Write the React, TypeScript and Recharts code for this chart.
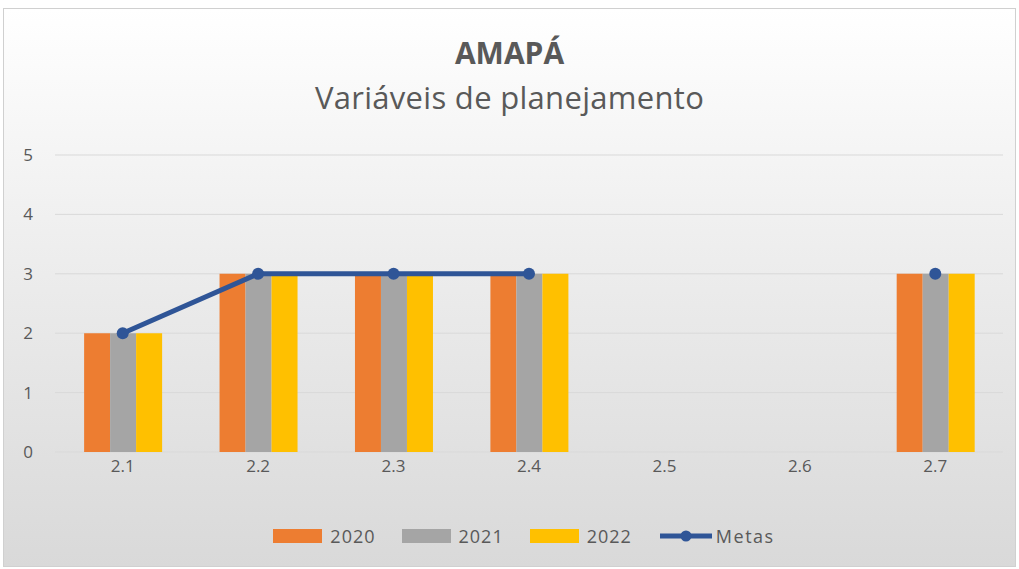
import React from 'react';
import { ComposedChart, Bar, Line, XAxis, YAxis, CartesianGrid } from 'recharts';

const categories = ['2.1', '2.2', '2.3', '2.4', '2.5', '2.6', '2.7'];
const values2020 = [2, 3, 3, 3, null, null, 3];
const values2021 = [2, 3, 3, 3, null, null, 3];
const values2022 = [2, 3, 3, 3, null, null, 3];
const metas = [2, 3, 3, 3, null, null, 3];
const yTicks = [0, 1, 2, 3, 4, 5];

const data = categories.map((c, i) => ({
  cat: c,
  y2020: values2020[i],
  y2021: values2021[i],
  y2022: values2022[i],
  metas: metas[i]
}));

const TEXT = '#595959';
const FONT = '"Open Sans", sans-serif';

const legendItems = [
  { label: '2020', color: '#ED7D31', type: 'rect' },
  { label: '2021', color: '#A5A5A5', type: 'rect' },
  { label: '2022', color: '#FFC000', type: 'rect' },
  { label: 'Metas', color: '#2F5597', type: 'line' }
];

const LegendBox = () => (
  <div
    style={{
      position: 'absolute',
      left: 0,
      top: 524,
      width: 1048,
      display: 'flex',
      justifyContent: 'center',
      alignItems: 'center',
      fontFamily: FONT,
      fontSize: 18,
      color: TEXT
    }}
  >
    {legendItems.map(it => (
      <div key={it.label} style={{ display: 'flex', alignItems: 'center', marginRight: it.type === 'line' ? 0 : 26 }}>
        {it.type === 'rect' ? (
          <div style={{ width: 49, height: 14, background: it.color, marginRight: 8 }} />
        ) : (
          <svg width={56} height={14} style={{ marginRight: 2 }}>
            <line x1={2} y1={7} x2={54} y2={7} stroke={it.color} strokeWidth={5} />
            <circle cx={28} cy={7} r={5.5} fill={it.color} />
          </svg>
        )}
        <span style={{ letterSpacing: it.type === 'line' ? 1.5 : 1 }}>{it.label}</span>
      </div>
    ))}
  </div>
);

export default function App() {
  return (
    <div style={{ position: 'absolute', left: 0, top: 0, width: 1019, height: 569, background: '#fff' }}>
      <div
        style={{
          position: 'absolute',
          left: 3,
          top: 8,
          width: 1011,
          height: 557,
          border: '1px solid #d0d0d0',
          background: 'linear-gradient(to bottom, #ffffff 0%, #ededed 45%, #d9d9d9 100%)'
        }}
      />
      <div style={{ position: 'absolute', left: 0, top: 32, width: 1019, textAlign: 'center', fontFamily: FONT, fontWeight: 700, fontSize: 30, color: TEXT }}>
        AMAPÁ
      </div>
      <div style={{ position: 'absolute', left: 0, top: 76, width: 1019, textAlign: 'center', fontFamily: FONT, fontSize: 31, letterSpacing: 0.3, color: TEXT }}>
        Variáveis de planejamento
      </div>
      <div style={{ position: 'absolute', left: 0, top: 0 }}>
        <ComposedChart
          width={1019}
          height={569}
          data={data}
          margin={{ top: 155, right: 16, bottom: 87, left: 10 }}
          barCategoryGap="21.5%"
          barGap={0}
        >
          <CartesianGrid horizontal vertical={false} stroke="#d9d9d9" />
          <XAxis
            dataKey="cat"
            axisLine={false}
            tickLine={false}
            tickMargin={2}
            height={30}
            tick={{ fill: TEXT, fontSize: 17, fontFamily: FONT }}
          />
          <YAxis
            domain={[0, 5]}
            ticks={yTicks}
            width={45}
            axisLine={false}
            tickLine={false}
            tickMargin={16}
            tick={{ fill: TEXT, fontSize: 17, fontFamily: FONT }}
          />
          <Bar dataKey="y2020" name="2020" fill="#ED7D31" isAnimationActive={false} />
          <Bar dataKey="y2021" name="2021" fill="#A5A5A5" isAnimationActive={false} />
          <Bar dataKey="y2022" name="2022" fill="#FFC000" isAnimationActive={false} />
          <Line
            dataKey="metas"
            name="Metas"
            stroke="#2F5597"
            strokeWidth={5}
            dot={{ r: 6, fill: '#2F5597', stroke: '#2F5597', strokeWidth: 0 }}
            connectNulls={false}
            isAnimationActive={false}
          />
        </ComposedChart>
      </div>
      <LegendBox />
    </div>
  );
}
